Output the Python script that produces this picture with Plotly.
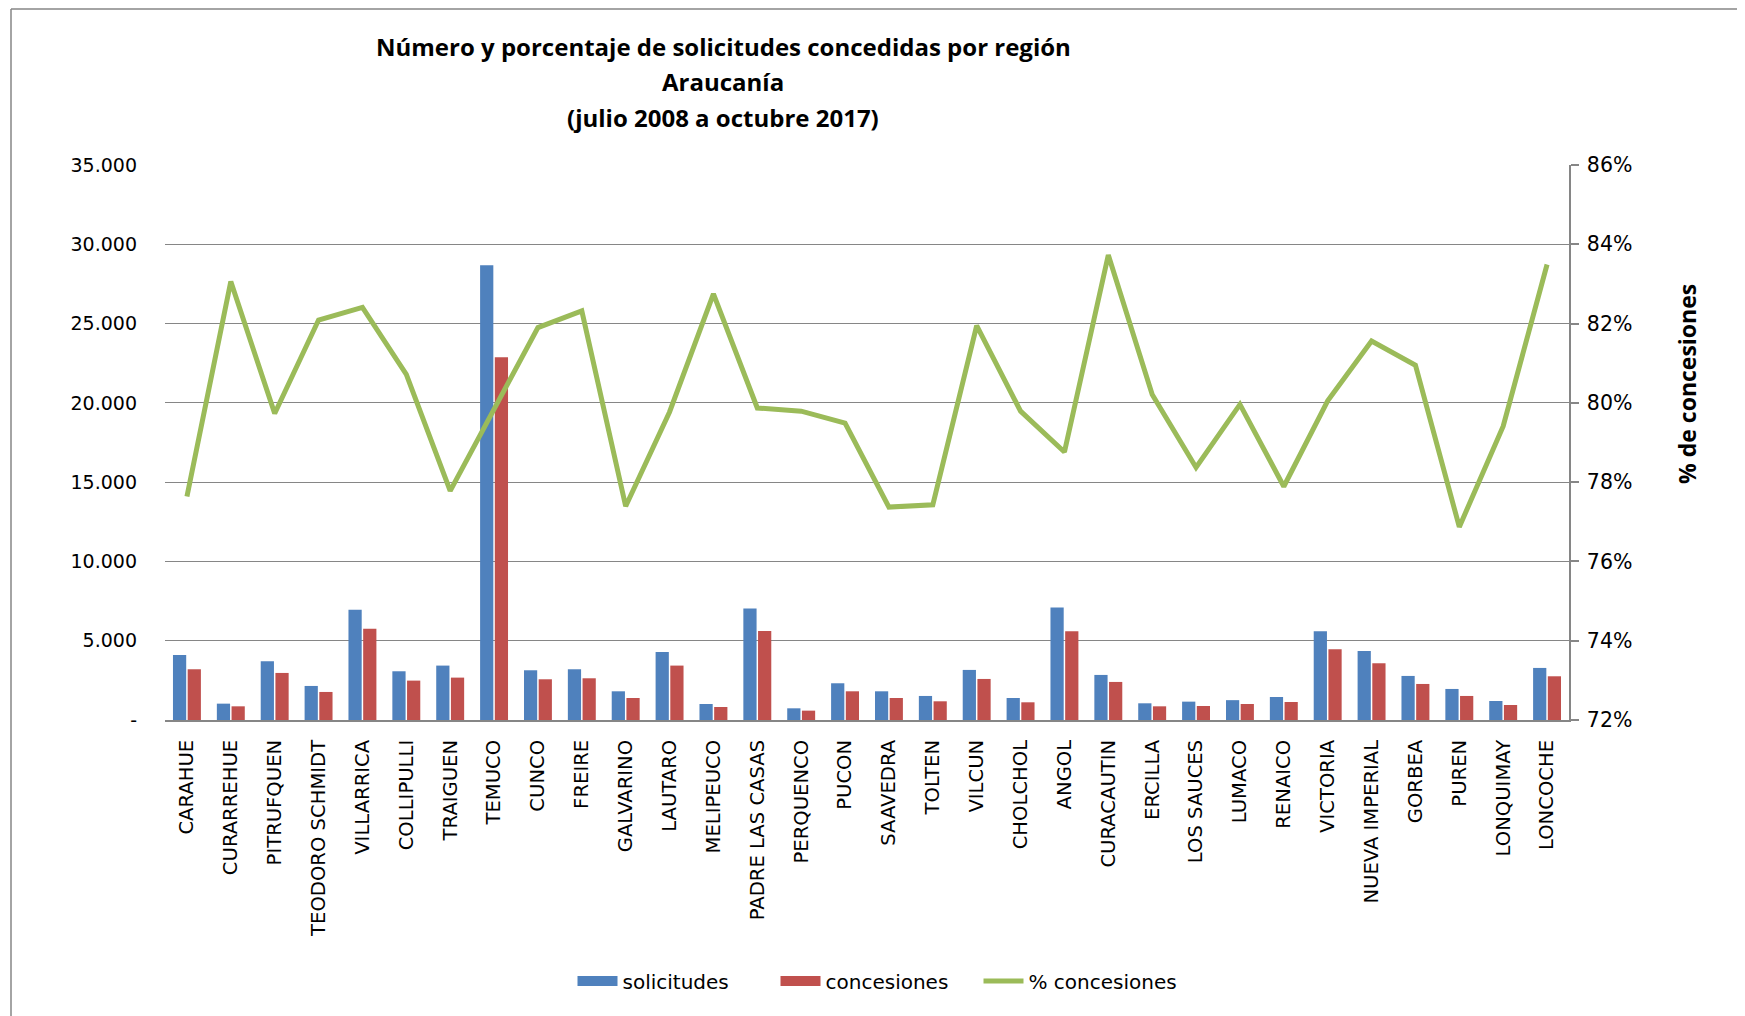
import plotly.graph_objects as go

categories = ["CARAHUE", "CURARREHUE", "PITRUFQUEN", "TEODORO SCHMIDT", "VILLARRICA",
              "COLLIPULLI", "TRAIGUEN", "TEMUCO", "CUNCO", "FREIRE", "GALVARINO",
              "LAUTARO", "MELIPEUCO", "PADRE LAS CASAS", "PERQUENCO", "PUCON",
              "SAAVEDRA", "TOLTEN", "VILCUN", "CHOLCHOL", "ANGOL", "CURACAUTIN",
              "ERCILLA", "LOS SAUCES", "LUMACO", "RENAICO", "VICTORIA",
              "NUEVA IMPERIAL", "GORBEA", "PUREN", "LONQUIMAY", "LONCOCHE"]

solicitudes = [4105, 1031, 3705, 2147, 6947, 3073, 3431, 28680, 3136, 3200, 1810,
               4294, 1010, 7031, 737, 2316, 1810, 1516, 3158, 1389, 7094, 2842,
               1053, 1158, 1252, 1452, 5599, 4357, 2779, 1958, 1200, 3284]

concesiones = [3200, 863, 2968, 1768, 5747, 2484, 2673, 22870, 2568, 2631, 1389,
               3431, 821, 5620, 590, 1810, 1389, 1179, 2589, 1116, 5599, 2400,
               863, 884, 1010, 1137, 4463, 3578, 2273, 1516, 947, 2757]

pct_concesiones = [0.7764, 0.8306, 0.7973, 0.8209, 0.8241, 0.8072, 0.7778, 0.7985,
                   0.8190, 0.8232, 0.7739, 0.7977, 0.8275, 0.7987, 0.7979, 0.7949,
                   0.7737, 0.7743, 0.8195, 0.7979, 0.7876, 0.8373, 0.8021, 0.7837,
                   0.7996, 0.7789, 0.8005, 0.8156, 0.8095, 0.7687, 0.7941, 0.8349]

left_tickvals = [0, 5000, 10000, 15000, 20000, 25000, 30000, 35000]
left_ticktext = ["-", "5.000", "10.000", "15.000", "20.000", "25.000", "30.000", "35.000"]
right_tickvals = [0.72, 0.74, 0.76, 0.78, 0.80, 0.82, 0.84, 0.86]
right_ticktext = ["72%", "74%", "76%", "78%", "80%", "82%", "84%", "86%"]

title_lines = ["Número y porcentaje de solicitudes concedidas por región",
               "Araucanía",
               "(julio 2008 a octubre 2017)"]

BLUE = "#4F81BD"
RED = "#C0504D"
GREEN = "#9BBB59"
GRID = "#868686"
TICKFONT = dict(family="DejaVu Sans", size=19, color="black")

fig = go.Figure()
fig.add_trace(go.Bar(x=categories, y=solicitudes, name="solicitudes",
                     legendgroup="sol", showlegend=False,
                     marker=dict(color=BLUE, line=dict(width=0))))
fig.add_trace(go.Bar(x=categories, y=concesiones, name="concesiones",
                     legendgroup="con", showlegend=False,
                     marker=dict(color=RED, line=dict(width=0))))
fig.add_trace(go.Scatter(x=categories, y=pct_concesiones, name="% concesiones",
                         mode="lines", yaxis="y2", legendgroup="pct", showlegend=False,
                         line=dict(color=GREEN, width=5)))
# legend entries (Excel-style wide swatches)
fig.add_trace(go.Scatter(x=[None], y=[None], name="solicitudes", mode="lines",
                         legendgroup="sol", line=dict(color=BLUE, width=16)))
fig.add_trace(go.Scatter(x=[None], y=[None], name="concesiones", mode="lines",
                         legendgroup="con", line=dict(color=RED, width=16)))
fig.add_trace(go.Scatter(x=[None], y=[None], name="% concesiones", mode="lines",
                         legendgroup="pct", line=dict(color=GREEN, width=5)))

W, H = 1745, 1016
OFF = 8  # page offset of the figure
L, T = 165 - OFF, 165 - OFF
R = W - (1569 - OFF)
B = H - (720 - OFF)
pw, ph = W - L - R, H - T - B

def px_x(x):
    return (x - OFF - L) / pw

def px_y(y):
    return (H - B - (y - OFF)) / ph

annotations = []
for txt, ypix in zip(title_lines, [47, 82, 118]):
    annotations.append(dict(text=txt, x=px_x(723), y=px_y(ypix), xref="paper", yref="paper",
                            xanchor="center", yanchor="middle", showarrow=False,
                            font=dict(family="Open Sans", size=24, color="black", weight="bold")))
annotations.append(dict(text="% de concesiones", x=px_x(1687), y=px_y(384),
                        xref="paper", yref="paper", xanchor="center", yanchor="middle",
                        textangle=-90, showarrow=False,
                        font=dict(family="Open Sans", size=23, color="black", weight="bold")))

fig.update_layout(
    width=W, height=H,
    margin=dict(l=L, r=R, t=T, b=B),
    paper_bgcolor="white", plot_bgcolor="white",
    barmode="group", bargap=0.33, bargroupgap=0.1,
    showlegend=True,
    legend=dict(orientation="h", x=px_x(877), y=px_y(981), xanchor="center", yanchor="middle",
                font=dict(family="DejaVu Sans", size=20, color="black"),
                itemwidth=40, entrywidth=148, entrywidthmode="pixels",
                traceorder="normal"),
    xaxis=dict(tickangle=-90, tickfont=dict(family="DejaVu Sans", size=19.6, color="black"),
               showline=True, linecolor=GRID, linewidth=2,
               ticks="", showgrid=False, ticklabelstandoff=10),
    yaxis=dict(range=[0, 35000], tickvals=left_tickvals, ticktext=left_ticktext,
               tickfont=TICKFONT, showgrid=True, gridcolor=GRID, gridwidth=1,
               zeroline=False, showline=False, ticks="", ticklabelstandoff=27),
    yaxis2=dict(range=[0.72, 0.86], tickvals=right_tickvals, ticktext=right_ticktext,
                overlaying="y", side="right",
                tickfont=dict(family="DejaVu Sans", size=20.5, color="black"),
                showgrid=False,
                zeroline=False, showline=True, linecolor=GRID, linewidth=1.5,
                ticks="outside", ticklen=8, tickcolor=GRID, tickwidth=1.5,
                ticklabelstandoff=4),
    annotations=annotations,
    shapes=[
        dict(type="line", xref="paper", yref="paper", x0=px_x(11), x1=px_x(1760),
             y0=px_y(9), y1=px_y(9), line=dict(color=GRID, width=1.5)),
        dict(type="line", xref="paper", yref="paper", x0=px_x(11), x1=px_x(11),
             y0=px_y(9), y1=px_y(1030), line=dict(color=GRID, width=1.5)),
    ],
)

fig.write_html("out.html")
